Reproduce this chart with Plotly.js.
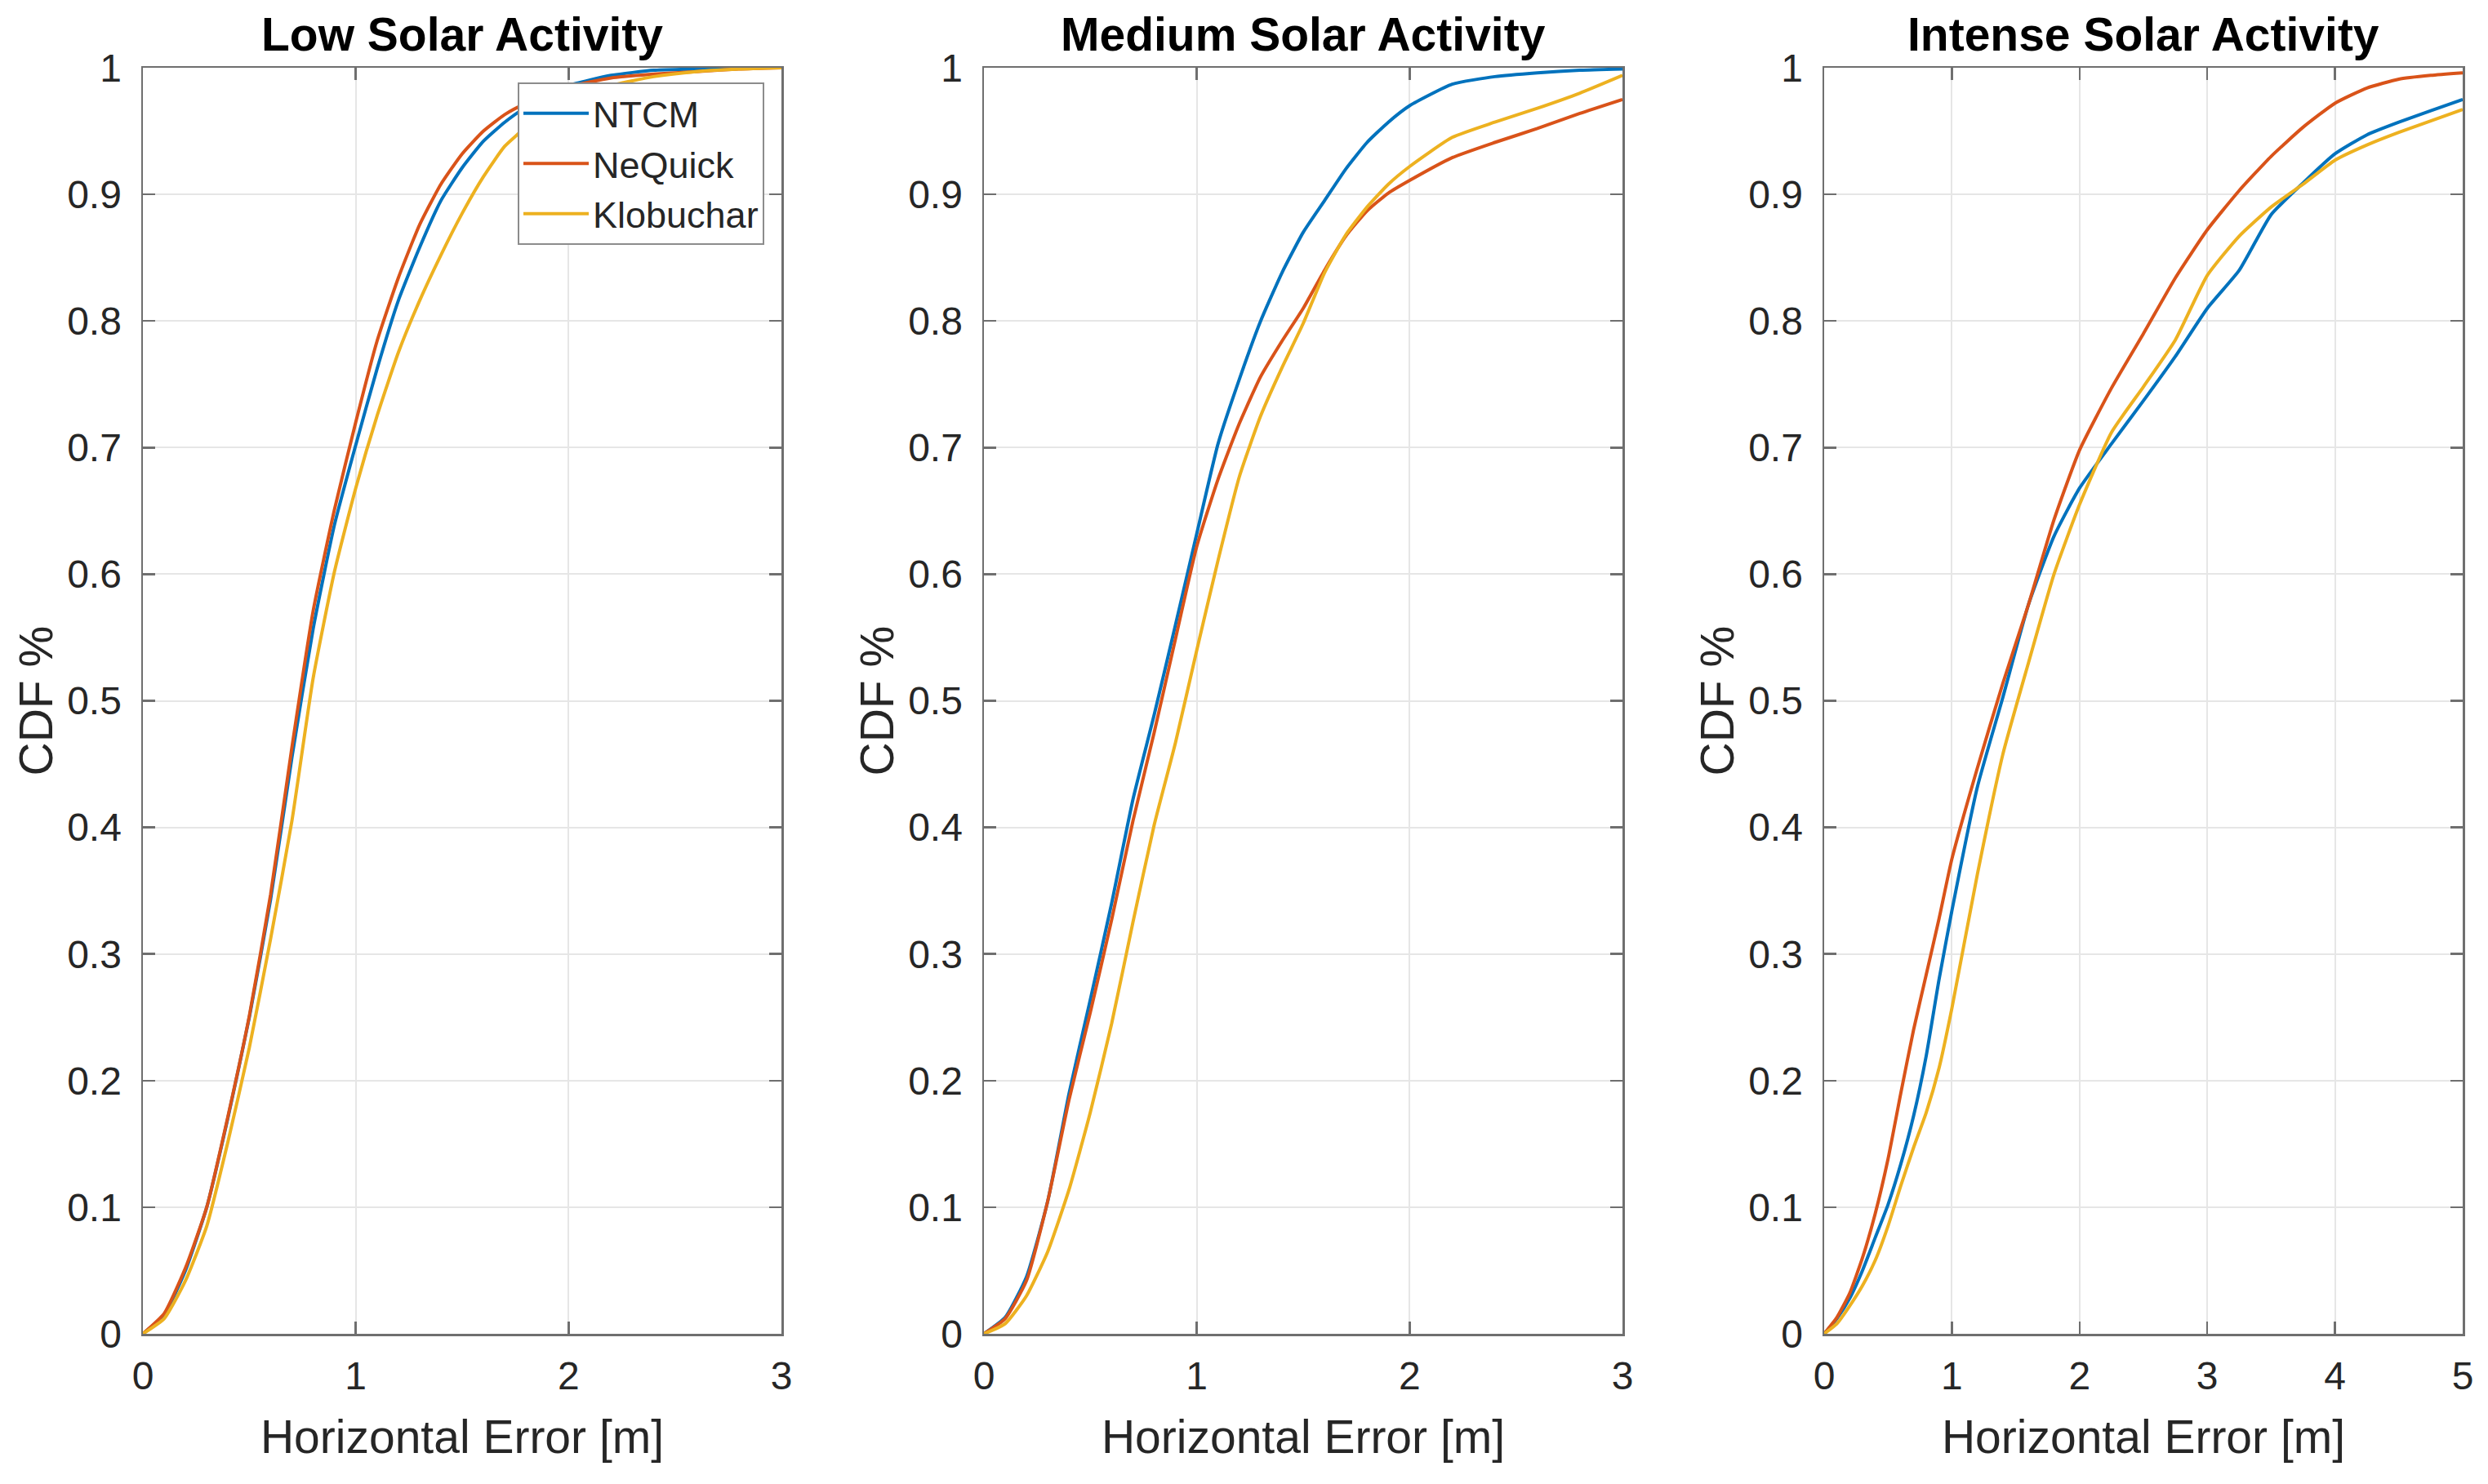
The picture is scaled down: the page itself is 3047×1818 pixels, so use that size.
<!DOCTYPE html>
<html>
<head>
<meta charset="utf-8">
<script src="https://cdn.plot.ly/plotly-3.0.1.min.js"></script>
<style>
  html, body { margin: 0; padding: 0; background: #ffffff; }
  #chart { width: 3047px; height: 1818px; }
</style>
</head>
<body>
<div id="chart"></div>
<script>
// ---------------- DATA ----------------
const panelTitles = ["Low Solar Activity", "Medium Solar Activity", "Intense Solar Activity"];
const seriesNames = ["NTCM", "NeQuick", "Klobuchar"];
const xTitle = "Horizontal Error [m]";
const yTitle = "CDF %";

// Low solar activity
const lowX        = [0,0.1,0.2,0.3,0.4,0.5,0.6,0.7,0.8,0.9,1.0,1.1,1.2,1.3,1.4,1.5,1.6,1.7,1.8,1.9,2.0,2.2,2.4,2.6,2.8,3.0];
const lowNTCM     = [0,0.015,0.050,0.100,0.171,0.250,0.343,0.455,0.557,0.639,0.702,0.762,0.816,0.858,0.895,0.921,0.942,0.957,0.969,0.979,0.986,0.994,0.998,0.999,1.000,1.000];
const lowNeQuick  = [0,0.016,0.052,0.100,0.172,0.251,0.347,0.463,0.571,0.651,0.720,0.784,0.834,0.876,0.908,0.932,0.950,0.963,0.972,0.979,0.985,0.992,0.995,0.997,0.999,1.000];
const lowKlob     = [0,0.012,0.042,0.085,0.152,0.226,0.312,0.405,0.518,0.602,0.668,0.725,0.775,0.816,0.852,0.885,0.914,0.938,0.953,0.965,0.975,0.986,0.993,0.997,0.999,1.000];

// Medium solar activity
const medX        = [0,0.1,0.2,0.3,0.4,0.5,0.6,0.7,0.8,0.9,1.0,1.1,1.2,1.3,1.4,1.5,1.6,1.7,1.8,1.9,2.0,2.2,2.4,2.6,2.8,3.0];
const medNTCM     = [0,0.013,0.045,0.105,0.190,0.264,0.340,0.422,0.489,0.560,0.632,0.703,0.754,0.800,0.838,0.870,0.895,0.920,0.941,0.957,0.970,0.987,0.993,0.996,0.998,0.999];
const medNeQuick  = [0,0.012,0.042,0.105,0.185,0.254,0.327,0.405,0.475,0.549,0.622,0.675,0.719,0.756,0.784,0.810,0.840,0.867,0.887,0.901,0.911,0.929,0.941,0.952,0.964,0.975];
const medKlob     = [0,0.008,0.030,0.065,0.114,0.175,0.245,0.325,0.402,0.467,0.540,0.611,0.677,0.725,0.763,0.798,0.838,0.868,0.890,0.908,0.922,0.945,0.957,0.968,0.980,0.994];

// Intense solar activity
const intX        = [0,0.1,0.2,0.3,0.4,0.5,0.6,0.7,0.8,0.9,1.0,1.2,1.4,1.6,1.8,2.0,2.25,2.5,2.75,3.0,3.25,3.5,3.75,4.0,4.25,4.5,4.75,5.0];
const intNTCM     = [0,0.012,0.028,0.050,0.076,0.102,0.134,0.172,0.220,0.280,0.334,0.432,0.503,0.576,0.630,0.668,0.703,0.737,0.772,0.810,0.840,0.884,0.909,0.932,0.947,0.957,0.966,0.975];
const intNeQuick  = [0,0.013,0.032,0.060,0.095,0.138,0.190,0.240,0.284,0.328,0.375,0.447,0.514,0.576,0.643,0.698,0.747,0.790,0.834,0.872,0.903,0.930,0.953,0.972,0.984,0.991,0.994,0.996];
const intKlob     = [0,0.008,0.022,0.038,0.058,0.085,0.117,0.147,0.175,0.210,0.257,0.363,0.458,0.530,0.600,0.655,0.712,0.748,0.785,0.836,0.867,0.890,0.908,0.927,0.939,0.949,0.958,0.967];

const xMax = [3, 3, 5];

// ---------------- STYLE ----------------
const colors = ["#0072BD", "#D95319", "#EDB120"];
const FONT = "Liberation Sans, Arial, Helvetica, sans-serif";
const axisColor = "#6f6f6f";
const textColor = "#262626";

const panels = [
  {x: lowX, ys: [lowNTCM, lowNeQuick, lowKlob]},
  {x: medX, ys: [medNTCM, medNeQuick, medKlob]},
  {x: intX, ys: [intNTCM, intNeQuick, intKlob]}
];

const traces = [];
panels.forEach((p, i) => {
  p.ys.forEach((y, s) => {
    traces.push({
      x: p.x, y: y,
      type: "scatter", mode: "lines",
      name: seriesNames[s],
      showlegend: i === 0,
      line: {color: colors[s], width: 4, shape: "spline", smoothing: 0.5},
      xaxis: i === 0 ? "x" : "x" + (i + 1),
      yaxis: i === 0 ? "y" : "y" + (i + 1),
      hoverinfo: "skip"
    });
  });
});

const W = 3047, H = 1818;
const xDomains = [[175 / W, 957 / W], [1205 / W, 1987 / W], [2234 / W, 3016 / W]];
const yDomain = [(H - 1634) / H, (H - 83) / H];

const layout = {
  width: W, height: H,
  margin: {l: 0, r: 0, t: 0, b: 0, pad: 0},
  paper_bgcolor: "#ffffff",
  plot_bgcolor: "#ffffff",
  font: {family: FONT, color: textColor},
  showlegend: true,
  legend: {
    x: 936 / W, xanchor: "right",
    y: (H - 101) / H, yanchor: "top",
    bgcolor: "#ffffff",
    bordercolor: "#8c8c8c", borderwidth: 2,
    font: {family: FONT, size: 45, color: textColor},
    itemwidth: 80,
    tracegroupgap: 0
  },
  annotations: []
};

for (let i = 0; i < 3; i++) {
  const xa = i === 0 ? "xaxis" : "xaxis" + (i + 1);
  const ya = i === 0 ? "yaxis" : "yaxis" + (i + 1);
  layout[xa] = {
    domain: xDomains[i],
    anchor: i === 0 ? "y" : "y" + (i + 1),
    range: [0, xMax[i]],
    dtick: 1, tick0: 0,
    ticks: "inside", ticklen: 15, tickwidth: 2.5, tickcolor: axisColor,
    showline: true, linecolor: axisColor, linewidth: 2.5, mirror: "ticks",
    showgrid: true, gridcolor: "#e6e6e6", gridwidth: 2,
    zeroline: false,
    tickfont: {family: FONT, size: 48, color: textColor},
    ticklabelstandoff: 8,
    title: {text: xTitle, font: {family: FONT, size: 57, color: textColor}, standoff: 29},
    fixedrange: true
  };
  layout[ya] = {
    domain: yDomain,
    anchor: i === 0 ? "x" : "x" + (i + 1),
    range: [0, 1],
    dtick: 0.1, tick0: 0,
    ticks: "inside", ticklen: 15, tickwidth: 2.5, tickcolor: axisColor,
    showline: true, linecolor: axisColor, linewidth: 2.5, mirror: "ticks",
    showgrid: true, gridcolor: "#e6e6e6", gridwidth: 2,
    zeroline: false,
    tickfont: {family: FONT, size: 48, color: textColor},
    ticklabelstandoff: 14,
    fixedrange: true
  };
  // panel title
  layout.annotations.push({
    text: panelTitles[i],
    xref: "paper", yref: "paper",
    x: (xDomains[i][0] + xDomains[i][1]) / 2, xanchor: "center",
    y: (H - 42) / H, yanchor: "middle",
    showarrow: false,
    font: {family: FONT, size: 57, color: "#000000", weight: 700}
  });
  // y-axis title
  layout.annotations.push({
    text: yTitle,
    xref: "paper", yref: "paper",
    x: (xDomains[i][0] * W - 132) / W, xanchor: "center",
    y: (yDomain[0] + yDomain[1]) / 2, yanchor: "middle",
    textangle: -90,
    showarrow: false,
    font: {family: FONT, size: 57, color: textColor}
  });
}

Plotly.newPlot("chart", traces, layout, {displayModeBar: false, staticPlot: true, responsive: false});
</script>
</body>
</html>
